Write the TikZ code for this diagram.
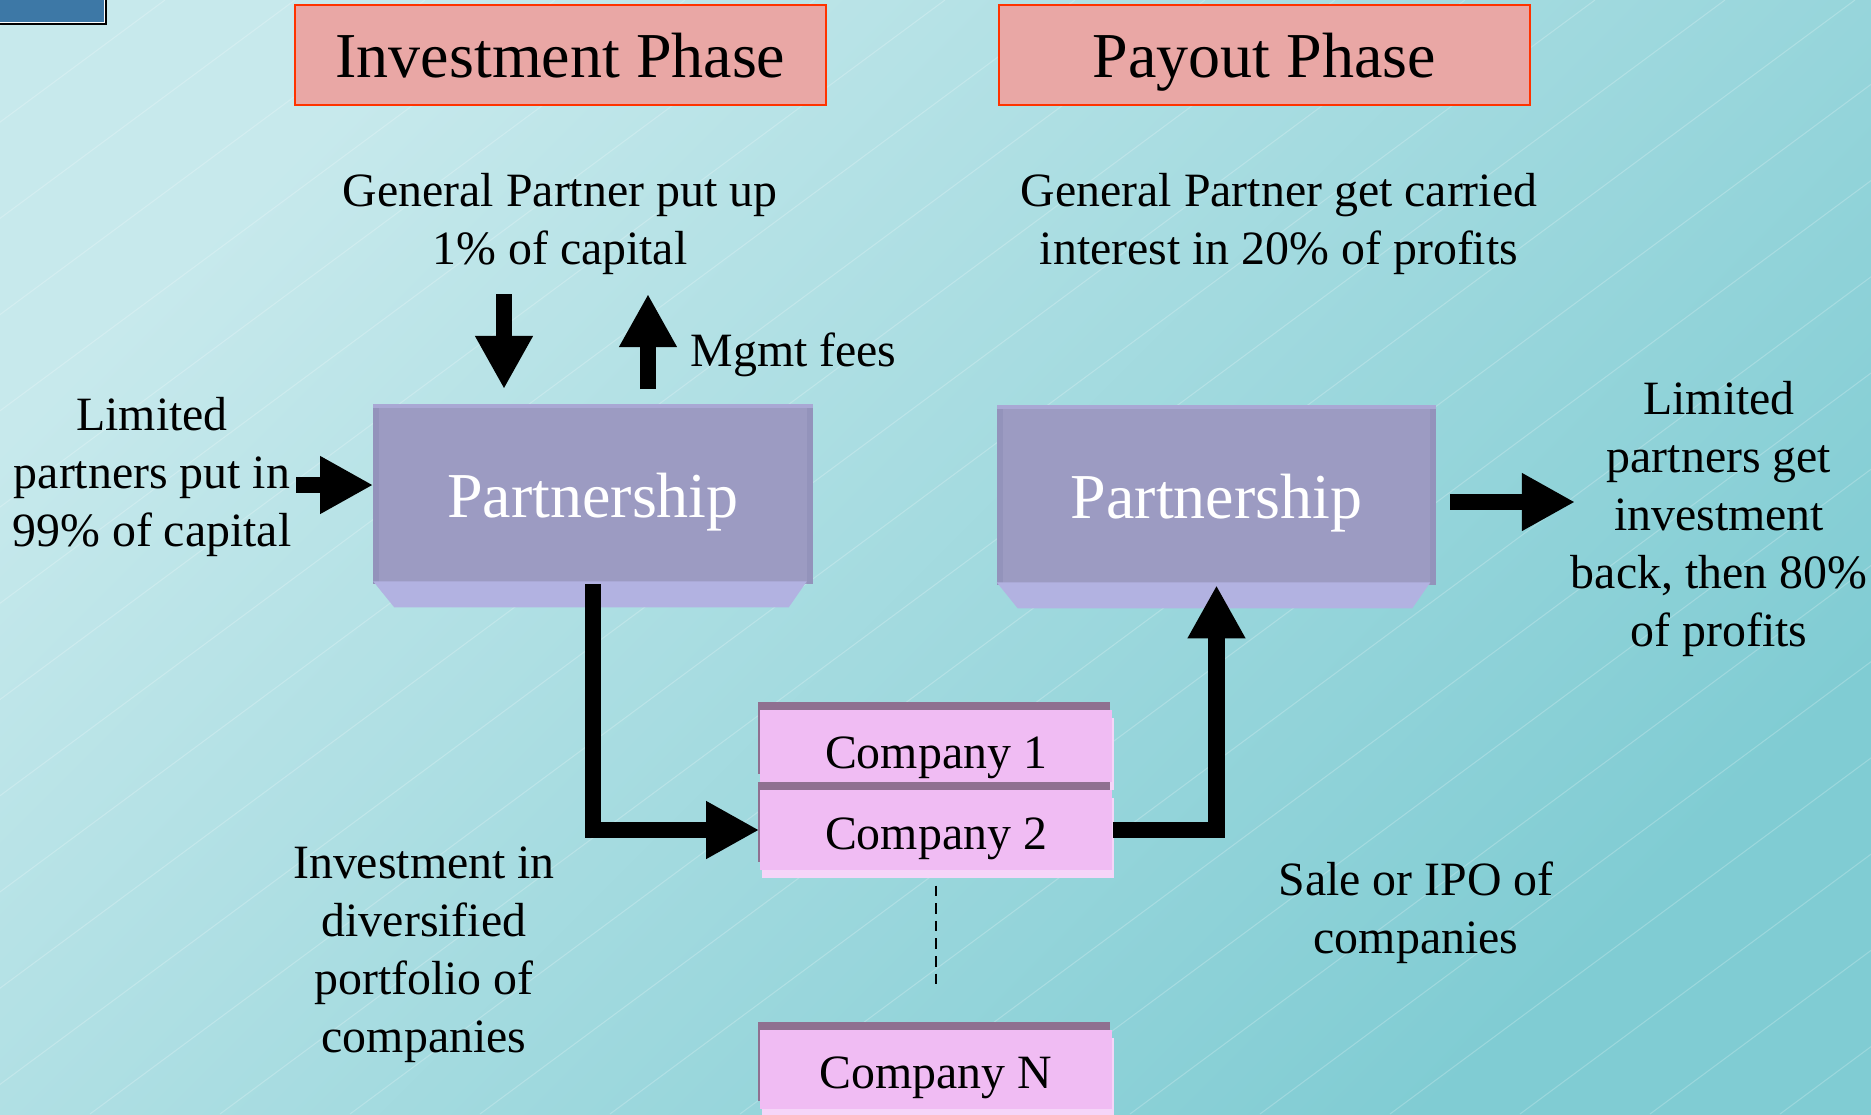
\documentclass[tikz,border=0pt]{standalone}
\usepackage{fontspec}
\setmainfont{Liberation Serif}
\usetikzlibrary{arrows.meta, calc, shadows, positioning}

\definecolor{bgtop}{HTML}{C7E9EC}
\definecolor{bgbot}{HTML}{80CCD3}
\definecolor{phasefill}{HTML}{E9A7A5}
\definecolor{phaseline}{HTML}{FF3300}
\definecolor{partfill}{HTML}{9C9BC2}
\definecolor{parttop}{HTML}{A9A8D4}
\definecolor{partside}{HTML}{9393BB}
\definecolor{bevel}{HTML}{B2B2E1}
\definecolor{compfill}{HTML}{F0BCF3}
\definecolor{compdark}{HTML}{8F7090}
\definecolor{compshade}{HTML}{F5D5F8}
\definecolor{cornerblue}{HTML}{3D78A6}

\newcommand\bodyfont{\fontsize{13.6}{16.5}\selectfont}
\newcommand\bigfont{\fontsize{18.2}{22}\selectfont}

\tikzset{
  phase/.style={draw=phaseline, line width=0.6pt, fill=phasefill,
                minimum width=5.31cm, minimum height=1cm, font=\bigfont,
                text height=12.8pt, text depth=0pt},
  partbox/.style={fill=partfill, minimum width=4.38cm, minimum height=1.79cm,
                  text=white, font=\bigfont, text height=13.6pt, text depth=0pt},
  compbox/.style={fill=compfill, minimum width=3.52cm, inner sep=0pt, font=\bodyfont,
                  text height=11pt, text depth=0pt,
                  general shadow={shadow xshift=0.02cm, shadow yshift=-0.08cm, fill=compshade},
                  general shadow={shadow xshift=-0.02cm, shadow yshift=0.08cm, fill=compdark}},
  txt/.style={align=center, inner sep=0pt, font=\bodyfont},
  fat/.style={line width=0.16cm, -{Triangle[length=0.53cm, width=0.54cm]}},
}

\begin{document}
\begin{tikzpicture}[x=0.01cm, y=-0.01cm]
  \useasboundingbox (0,0) rectangle (1871,1114);
  % Background
  \begin{scope}
    \clip (0,0) rectangle (1871,1114);
    \shade[top color=bgtop, bottom color=bgbot, shading angle=45]
      (0,0) rectangle (1871,1114);
    \foreach \s in {-1600,-1470,...,1871}
      \draw[white, opacity=0.22, line width=0.3pt] (\s,1114) -- ++(1505,-1114);
    \fill[black] (-5,-5) rectangle (107,25);
    \fill[white] (-5,-5) rectangle (105,23);
    \fill[cornerblue] (-5,-5) rectangle (104,22);
  \end{scope}

  % Phase titles
  \node[phase] (inv) at (560.5,55) {Investment Phase};
  \node[phase] (pay) at (1264.5,55) {Payout Phase};

  % Partnerships
  \node[partbox] (pl) at (593,494) {Partnership};
  \node[partbox] (pr) at (1216.5,495) {Partnership};
  \fill[parttop] (pl.north west) rectangle ($(pl.north east)+(0,4)$);
  \fill[partside] ($(pl.north west)+(0,4)$) rectangle ($(pl.south west)+(6,0)$);
  \fill[partside] ($(pl.north east)+(-6,4)$) rectangle (pl.south east);
  \fill[bevel] ($(pl.south west)+(0,-3)$) -- ($(pl.south east)+(-6,-3)$)
    -- ($(pl.south east)+(-24,23)$) -- ($(pl.south west)+(21,23)$) -- cycle;
  \fill[parttop] (pr.north west) rectangle ($(pr.north east)+(0,4)$);
  \fill[partside] ($(pr.north west)+(0,4)$) rectangle ($(pr.south west)+(6,0)$);
  \fill[partside] ($(pr.north east)+(-6,4)$) rectangle (pr.south east);
  \fill[bevel] ($(pr.south west)+(0,-3)$) -- ($(pr.south east)+(-6,-3)$)
    -- ($(pr.south east)+(-24,23)$) -- ($(pr.south west)+(21,23)$) -- cycle;

  % Companies
  \node[compbox, minimum height=0.72cm, text height=12.6pt] (c1) at (936,746) {Company 1};
  \node[compbox, minimum height=0.80cm] (c2) at (936,830) {Company 2};
  \node[compbox, minimum height=0.79cm] (cN) at (936,1069.5) {Company N};
  \draw[line width=0.5pt, dash pattern=on 3pt off 2pt,
        shorten <=0.15cm, shorten >=0.4cm] (c2.south) -- (cN.north);

  % Texts
  \node[txt] (gpin) at (560,224) {General Partner put up\\1\% of capital};
  \node[txt] (gpout) at (1279,224) {General Partner get carried\\interest in 20\% of profits};
  \node[txt, anchor=west] (fees) at (690,355) {Mgmt fees};
  \node[txt] (lpin) at (152,477) {Limited\\partners put in\\99\% of capital};
  \node[txt] (lpout) at (1719,519) {Limited\\partners get\\investment\\back, then 80\%\\of profits};
  \node[txt] (port) at (424,955) {Investment in\\diversified\\portfolio of\\companies};
  \node[txt] (sale) at (1416,913) {Sale or IPO of\\companies};

  % Arrows
  \coordinate (gpA) at (504,294);
  \coordinate (gpB) at (504,389);
  \coordinate (feeA) at (648,389);
  \coordinate (feeB) at (648,294);
  \coordinate (lpA) at (296,485);
  \coordinate (lrB) at (1575,502);
  \draw[fat] (gpA) -- (gpB);
  \draw[fat] (feeA) -- (feeB);
  \draw[fat] (lpA) -- (lpA -| pl.west);
  \draw[fat, shorten <=0.14cm] (pr.east |- lrB) -- (lrB);
  \draw[fat] (pl.south) |- (c2.west);
  \draw[fat] (c2.east) -| (pr.south);
\end{tikzpicture}
\end{document}
